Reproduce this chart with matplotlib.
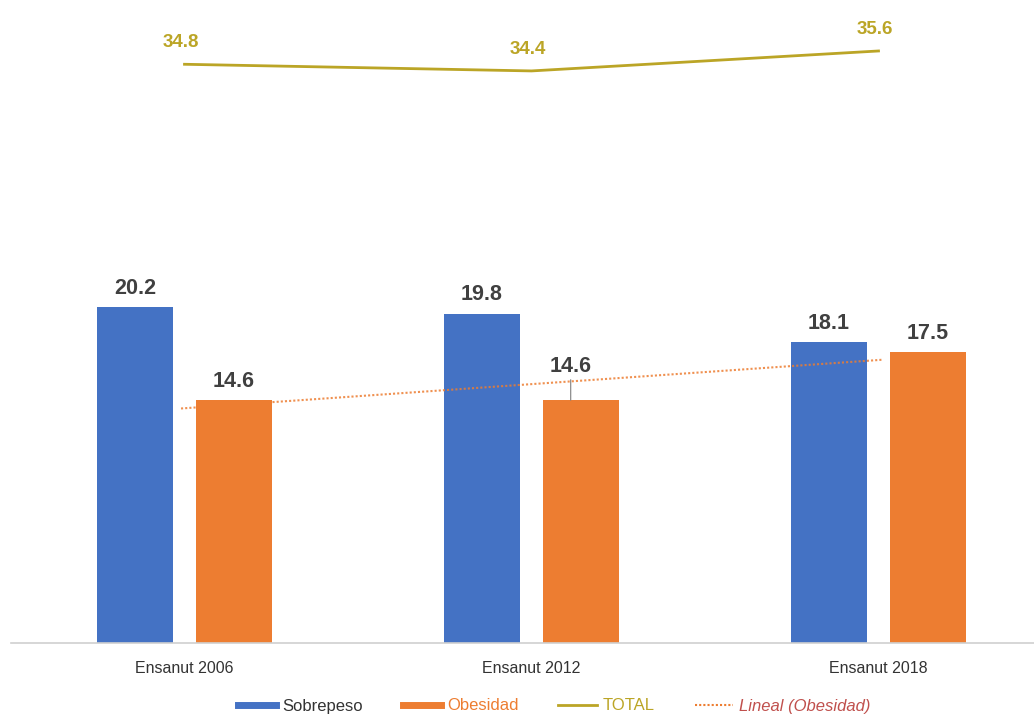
import matplotlib
matplotlib.use("Agg")
import matplotlib.pyplot as plt
import numpy as np
from matplotlib.lines import Line2D

categories = ["Ensanut 2006", "Ensanut 2012", "Ensanut 2018"]
sobrepeso = [20.2, 19.8, 18.1]
obesidad = [14.6, 14.6, 17.5]
total = [34.8, 34.4, 35.6]

BLUE = "#4472C4"
ORANGE = "#ED7D31"
GOLD = "#BBA526"
LABEL = "#404040"

plt.rcParams['font.family'] = ['Liberation Sans', 'DejaVu Sans']

fig = plt.figure(figsize=(10.34, 7.17), dpi=100)
ax = fig.add_axes([11/1034, 74/717, 1023/1034, 643/717])

x = np.arange(len(categories))
w = 0.22
off = 0.143
ax.bar(x - off, sobrepeso, w, color=BLUE, zorder=2)
ax.bar(x + off, obesidad, w, color=ORANGE, zorder=2)
ax.plot(x, total, color=GOLD, lw=2, zorder=3)

# linear trend of obesidad
coef = np.polyfit(x, obesidad, 1)
xt = np.array([-0.01, 2.01])
ax.plot(xt, np.polyval(coef, xt), color=ORANGE, lw=1.5, ls=(0, (1, 1)), zorder=4, alpha=0.85)

for xi, v in zip(x, sobrepeso):
    ax.text(xi - off, v + 0.5, f"{v}", ha="center", va="bottom", fontsize=15.5,
            fontweight="bold", color=LABEL)
for i, (xi, v) in enumerate(zip(x, obesidad)):
    if i == 1:
        ax.annotate(f"{v}", xy=(xi + off - 0.03, v), xytext=(xi + off - 0.03, v + 1.4),
                    ha="center", va="bottom", fontsize=15.5, fontweight="bold", color=LABEL,
                    arrowprops=dict(arrowstyle="-", color="#7f7f7f", lw=0.8, shrinkA=0, shrinkB=0))
    else:
        ax.text(xi + off, v + 0.5, f"{v}", ha="center", va="bottom", fontsize=15.5,
                fontweight="bold", color=LABEL)
for xi, v in zip(x, total):
    ax.text(xi - 0.01, v + 0.8, f"{v}", ha="center", va="bottom", fontsize=13.5,
            fontweight="bold", color=GOLD)

ax.set_xlim(-0.5, 2.5 - 18/347)
ax.set_ylim(0, 643/16.63)
ax.set_xticks(x)
ax.set_xticklabels(categories, fontsize=11.5, color="#333333")
ax.tick_params(axis="x", length=0, pad=13)
ax.set_yticks([])
for s in ["top", "right", "left"]:
    ax.spines[s].set_visible(False)
ax.spines["bottom"].set_color("#d0d0d0")
ax.spines["bottom"].set_linewidth(1.2)

handles = [
    Line2D([0], [0], color=BLUE, lw=5),
    Line2D([0], [0], color=ORANGE, lw=5),
    Line2D([0], [0], color=GOLD, lw=2),
    Line2D([0], [0], color=ORANGE, lw=1.5, ls=(0, (1, 1))),
]
labels = ["Sobrepeso", "Obesidad", "TOTAL", "Lineal (Obesidad)"]
leg = fig.legend(handles, labels, loc="center", bbox_to_anchor=(554/1034, 1 - 706/717),
                 ncol=4, frameon=False, fontsize=12, handlelength=2.3, columnspacing=2.4,
                 handletextpad=0.35)
txts = leg.get_texts()
txts[0].set_color("#333333")
txts[1].set_color(ORANGE)
txts[2].set_color(GOLD)
txts[3].set_color("#C0504D")
txts[3].set_style("italic")

fig.savefig("out.png", dpi=100)
